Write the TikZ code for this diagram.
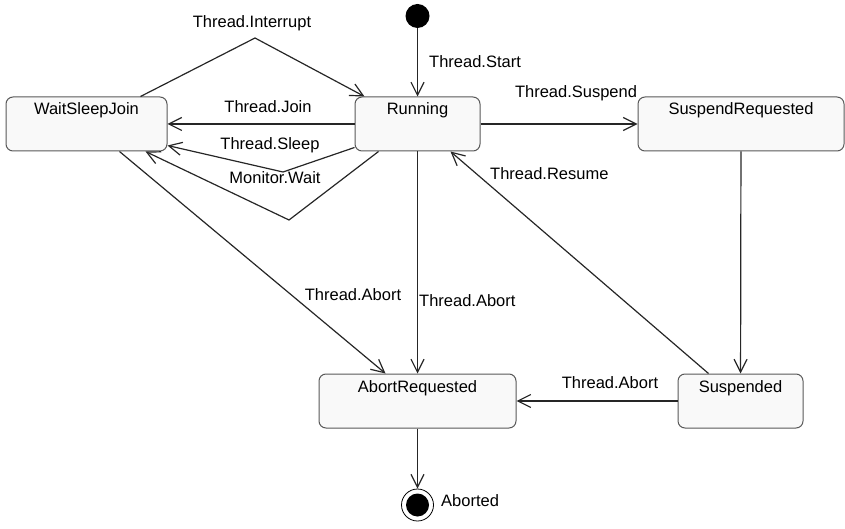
\documentclass[tikz,border=0pt]{standalone}
\usepackage{fontspec}
\setmainfont{Liberation Sans}
\usetikzlibrary{arrows.meta,calc}

\begin{document}
\begin{tikzpicture}[x=1pt, y=-1pt,
  font=\fontsize{16.5}{19}\selectfont, >={Straight Barb[length=13pt,width=13pt]},
  statebox/.style={draw=gray!70!black, fill=gray!5, line width=1pt,
    rounded corners=7pt, minimum width=#1, minimum height=54pt,
    inner xsep=0pt, inner ysep=6pt, text height=12pt, text depth=30pt},
  tr/.style={->, line width=1.2pt, draw=black!85},
  lb/.style={inner sep=0pt, text height=12pt, text depth=3.5pt},
]
\useasboundingbox (0,0) rectangle (845,529);
% states
\node[statebox=125pt] (run) at (417.5,124) {Running};
\node[statebox=161pt] (wsj) at (86.5,124) {WaitSleepJoin};
\node[statebox=206pt] (sreq) at (741,124) {SuspendRequested};
\node[statebox=197pt] (areq) at (417.5,401) {AbortRequested};
\node[statebox=125pt] (susp) at (740.5,401) {Suspended};
% initial and final
\node[circle, fill=black, minimum size=24pt, inner sep=0pt] (init) at (417.5,16) {};
\node[circle, draw=black, line width=0.8pt, minimum size=32pt, inner sep=0pt,
  path picture={\fill (path picture bounding box.center) circle (11.5pt);}]
  (final) at (417.5,505) {};
% bends
\coordinate (intb) at (255,38);
\coordinate (slpb) at (283,172);
\coordinate (wtb) at (289,220);
% transitions
\draw[tr] (init) -- (run);
\draw[tr] ([xshift=-27pt]wsj.north east) -- (intb) -- ([xshift=10pt]run.north west);
\draw[tr] (run) -- (wsj);
\draw[tr] ([yshift=4pt]run.south west) -- (slpb) -- ([yshift=6pt]wsj.south east);
\draw[tr] ([xshift=24pt]run.south west) -- (wtb) -- ([xshift=-22pt]wsj.south east);
\draw[tr] ([xshift=33pt]wsj.south) -- ([xshift=-32pt]areq.north);
\draw[tr] (run) -- (areq);
\draw[tr] (run) -- (sreq);
\draw[tr] (sreq) -- (susp);
\draw[tr] ([xshift=-32pt]susp.north) -- ([xshift=-30pt]run.south east);
\draw[tr] (susp) -- (areq);
\draw[tr] (areq) -- (final);
% labels
\node[lb, anchor=west] (lstart) at (429,63) {Thread.Start};
\node[lb] (lint) at (252,23) {Thread.Interrupt};
\node[lb] (ljoin) at (268,108) {Thread.Join};
\node[lb] (lsleep) at (270,145) {Thread.Sleep};
\node[lb] (lwait) at (275,179) {Monitor.Wait};
\node[lb] (lsusp) at (576,93) {Thread.Suspend};
\node[lb, anchor=west] (lres) at (490,175) {Thread.Resume};
\node[lb] (labw) at (353,296) {Thread.Abort};
\node[lb, anchor=west] (labr) at (419,302) {Thread.Abort};
\node[lb] (labs) at (610,384) {Thread.Abort};
\node[lb, anchor=west] (lend) at (441,502) {Aborted};
\end{tikzpicture}
\end{document}
